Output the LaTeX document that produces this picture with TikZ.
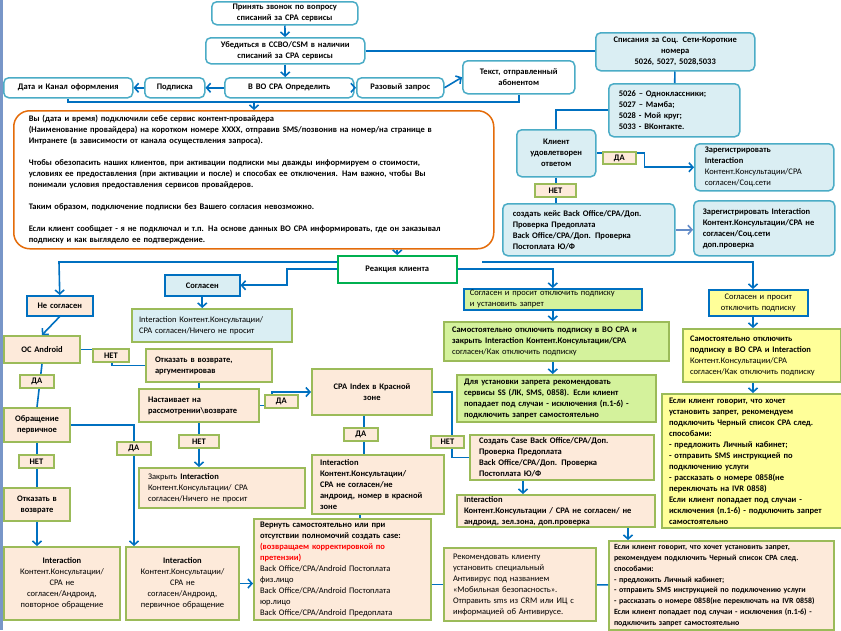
\documentclass[tikz,border=0pt]{standalone}
\usepackage{fontspec}
\setmainfont{Carlito}
\usepackage{tikz}
\usetikzlibrary{arrows.meta, positioning}
\usepackage{xcolor}
\definecolor{lineblue}{RGB}{0,112,192}
\definecolor{tealb}{RGB}{75,172,198}
\definecolor{lightblue}{RGB}{218,238,243}
\definecolor{oliveg}{RGB}{155,187,89}
\definecolor{peach}{RGB}{253,234,218}
\definecolor{limeg}{RGB}{212,242,156}
\definecolor{paleyel}{RGB}{255,255,153}
\definecolor{orangeb}{RGB}{228,108,10}
\definecolor{reactg}{RGB}{0,176,80}
\definecolor{softblue}{RGB}{100,140,200}
\definecolor{stripblue}{RGB}{120,150,200}
\newcommand{\fsize}{\fontsize{8.5}{11}\selectfont}
\tikzset{%
	every box/.style={
		anchor=north west,
		line width=1.5pt,
		inner xsep=4pt,
		inner ysep=1pt,
		font=\fsize
	},
	round box/.style={every box, draw=tealb, rounded corners=5pt, fill=#1},
	round box/.default=white,
	green box/.style={every box, draw=oliveg, line width=2pt, fill=#1},
	green box/.default=peach,
	blue box/.style={every box, draw=lineblue, fill=#1},
	blue box/.default=white,
	strong/.style={font=\fsize\bfseries},
	answer/.style={
		anchor=north west,
		draw=oliveg,
		line width=1.8pt,
		fill=peach,
		font=\fsize\bfseries,
		inner sep=0pt,
		minimum height=13pt,
		align=center
	},
	conn/.style={draw=lineblue, line width=1.6pt},
	arr/.style={conn, -{Straight Barb[length=4pt,width=9pt]}},
}

\begin{document}
\begin{tikzpicture}[x=1pt, y=-1pt]
			\useasboundingbox (0,0) rectangle (841,630);
			\fill[stripblue] (0,0) rectangle (3,630);
			
			\node[round box, strong, text width=138pt, minimum height=23pt, align=center] (call) at (211,1) {Принять звонок по вопросу\\списаний за CPA сервисы};
			\node[round box, strong, text width=151pt, minimum height=26pt, align=center] (check) at (205,37) {Убедиться в ССВО/CSM в наличии\\списаний за CPA сервисы};
			\node[round box, strong, text width=121pt, minimum height=20pt, align=center] (vo) at (224,77) {В ВО CPA Определить};
			\node[round box, strong, text width=52pt, minimum height=20pt, align=center] (sub) at (144,77) {Подписка};
			\node[round box, strong, text width=121pt, minimum height=20pt, align=center] (date) at (3,77) {Дата и Канал оформления};
			\node[round box, strong, text width=79pt, minimum height=20pt, align=center] (once) at (356,77) {Разовый запрос};
			\node[round box, strong, text width=104pt, minimum height=33pt, align=center] (smstext) at (462,60) {Текст, отправленный\\абонентом};
			
			\node[every box, strong, draw=orangeb, fill=white, rounded corners=16pt, inner xsep=15pt, text width=450pt, minimum height=138pt, align=left] (script) at (13,110) {Вы (дата и время) подключили себе сервис контент-провайдера\\(Наименование провайдера) на коротком номере XXXX, отправив SMS/позвонив на номер/на странице в\\Интранете (в зависимости от канала осуществления запроса).\\[11pt]Чтобы обезопасить наших клиентов, при активации подписки мы дважды информируем о стоимости,\\условиях ее предоставления (при активации и после) и способах ее отключения. Нам важно, чтобы Вы\\понимали условия предоставления сервисов провайдеров.\\[11pt]Таким образом, подключение подписки без Вашего согласия невозможно.\\[11pt]Если клиент сообщает - я не подключал и т.п. На основе данных ВО CPA информировать, где он заказывал\\подписку и как выглядело ее подтверждение.};
			
			\node[round box=lightblue, strong, text width=151pt, minimum height=38pt, align=center] (soc) at (595,32) {Списания за Соц. Сети-Короткие\\номера\\5026, 5027, 5028,5033};
			\node[round box=lightblue, strong, inner xsep=10pt, text width=111pt, minimum height=53pt, align=left] (codes) at (608,83) {5026 – Одноклассники;\\5027 – Мамба;\\5028 - Мой круг;\\5033 - ВКонтакте.};
			\node[round box=lightblue, strong, text width=71pt, minimum height=47pt, align=center] (satisfied) at (516,129) {Клиент\\удовлетворен\\ответом};
			\node[round box=lightblue, inner xsep=10pt, text width=119pt, minimum height=47pt, align=left] (reg1) at (694,143) {\textbf{Зарегистрировать}\\\textbf{Interaction}\\Контент.Консультации/CPA\\согласен/Соц.сети};
			\node[round box=lightblue, strong, inner xsep=10pt, text width=152pt, minimum height=52pt, align=left] (case1) at (502,203) {создать кейс Back Office/CPA/Доп.\\Проверка Предоплата\\Back Office/CPA/Доп. Проверка\\Постоплата Ю/Ф};
			\node[round box=lightblue, strong, inner xsep=9pt, text width=123pt, minimum height=55pt, align=left] (reg2) at (693,200) {Зарегистрировать Interaction\\Контент.Консультации/CPA не\\согласен/Соц.сети\\доп.проверка};
			
			\node[every box, strong, draw=reactg, fill=white, text width=111pt, minimum height=27pt, align=center] (react) at (337,255) {Реакция клиента};
			
			\node[blue box=lightblue, strong, text width=67pt, minimum height=21pt, align=center] (agree) at (164,274) {Согласен};
			\node[green box=lightblue, inner xsep=7pt, text width=146pt, minimum height=33pt, align=left] (agreeint) at (131,308) {Interaction Контент.Консультации/\\CPA согласен/Ничего не просит};
			\node[blue box=peach, strong, text width=58pt, minimum height=20pt, align=center] (disagree) at (26,295) {Не согласен};
			\node[green box, strong, text width=68pt, minimum height=27pt, align=center] (android) at (3,335) {ОС Android};
			\node[green box, strong, inner xsep=9pt, text width=108pt, minimum height=33pt, align=left] (refuse1) at (145,348) {Отказать в возврате,\\аргументировав};
			\node[green box, strong, inner xsep=9pt, text width=102pt, minimum height=33pt, align=left] (insist) at (138,388) {Настаивает на\\рассмотрении\textbackslash возврате};
			\node[green box, inner xsep=9pt, text width=148pt, minimum height=40pt, align=left] (close) at (138,467) {Закрыть \textbf{Interaction}\\Контент.Консультации/ CPA\\согласен/Ничего не просит};
			\node[green box, strong, text width=58pt, minimum height=34pt, align=center] (first) at (3,407) {Обращение\\первичное};
			\node[green box, strong, text width=58pt, minimum height=33pt, align=center] (refuse2) at (3,487) {Отказать в\\возврате};
			\node[green box, text width=108pt, minimum height=73pt, align=center] (intrep) at (3,546) {\textbf{Interaction}\\Контент.Консультации/\\CPA не\\согласен/Андроид,\\повторное обращение};
			\node[green box, text width=105pt, minimum height=73pt, align=center] (intfirst) at (125,546) {\textbf{Interaction}\\Контент.Консультации/\\CPA не\\согласен/Андроид,\\первичное обращение};
			\node[green box, strong, text width=112pt, minimum height=46pt, align=center] (cpaidx) at (311,368) {CPA Index в Красной\\зоне};
			\node[green box, strong, inner xsep=8pt, text width=116pt, minimum height=59pt, align=left] (intred) at (311,454) {Interaction\\Контент.Консультации/\\CPA не согласен/не\\андроид, номер в красной\\зоне};
			\node[green box, inner xsep=6pt, text width=165pt, minimum height=101pt, align=left] (ret) at (253,518) {\textbf{Вернуть самостоятельно или при}\\\textbf{отсутствии полномочий создать case:}\\\textcolor{red}{\textbf{(возвращаем корректировкой по}}\\\textcolor{red}{\textbf{претензии)}}\\Back Office/CPA/Android Постоплата\\физ.лицо\\Back Office/CPA/Android Постоплата\\юр.лицо\\Back Office/CPA/Android Предоплата};
			\node[green box, inner xsep=9pt, text width=134pt, minimum height=73pt, align=left] (recomm) at (443,547) {Рекомендовать клиенту\\установить специальный\\Антивирус под названием\\«Мобильная безопасность».\\Отправить sms из CRM или ИЦ с\\информацией об Антивирусе.};
			\node[green box, font=\fontsize{7.9}{10.8}\selectfont\bfseries, inner xsep=5pt, text width=215pt, minimum height=89pt, align=left] (offpeach) at (608,540) {Если клиент говорит, что хочет установить запрет,\\рекомендуем подключить Черный список CPA след.\\способами:\\- предложить Личный кабинет;\\- отправить SMS инструкцией по подключению услуги\\- рассказать о номере 0858(не переключать на IVR 0858)\\Если клиент попадает под случаи - исключения (п.1-6) -\\подключить запрет самостоятельно};
			
			\node[blue box=limeg, inner xsep=6pt, inner ysep=0pt, text width=166pt, minimum height=21pt, align=left] (agreebar) at (463,288) {Согласен и просит отключить подписку\\и установить запрет};
			\node[green box=limeg, inner xsep=8pt, text width=209pt, minimum height=39pt, align=left] (selfoff) at (443,321) {\textbf{Самостоятельно отключить подписку в ВО CPA и}\\\textbf{закрыть Interaction Контент.Консультации/CPA}\\согласен/Как отключить подписку};
			\node[green box=limeg, strong, inner xsep=7pt, text width=185pt, minimum height=47pt, align=left] (ban) at (456,374) {Для установки запрета рекомендовать\\сервисы SS (ЛК, SMS, 0858). Если клиент\\попадает под случаи - исключения (п.1-6) -\\подключить запрет самостоятельно};
			\node[green box, strong, inner xsep=9pt, text width=166pt, minimum height=45pt, align=left] (casegr) at (469,434) {Создать Case Back Office/CPA/Доп.\\Проверка Предоплата\\Back Office/CPA/Доп. Проверка\\Постоплата Ю/Ф};
			\node[green box, strong, inner xsep=7pt, text width=184pt, minimum height=32pt, align=left] (intgreen) at (456,494) {Interaction\\Контент.Консультации / CPA не согласен/ не\\андроид, зел.зона, доп.проверка};
			
			\node[blue box=paleyel, text width=91pt, minimum height=26pt, align=center] (yagree) at (708,289) {Согласен и просит\\отключить подписку};
			\node[green box=paleyel, inner xsep=7pt, text width=144pt, minimum height=53pt, align=left] (yself) at (682,328) {\textbf{Самостоятельно отключить}\\\textbf{подписку в ВО CPA и Interaction}\\Контент.Консультации/CPA\\согласен/Как отключить подписку};
			\node[green box=paleyel, strong, inner xsep=7pt, text width=166pt, minimum height=134pt, align=left] (ytalk) at (661,393) {Если клиент говорит, что хочет\\установить запрет, рекомендуем\\подключить Черный список CPA след.\\способами:\\- предложить Личный кабинет;\\- отправить SMS инструкцией по\\подключению услуги\\- рассказать о номере 0858(не\\переключать на IVR 0858)\\Если клиент попадает под случаи -\\исключения (п.1-6) - подключить запрет\\самостоятельно};
			
			\coordinate (mrg) at (254,102);
			\coordinate (busl) at (59,262);
			\coordinate (busr0) at (482,262);
			\coordinate (busr) at (753,262);
			
			\draw[arr] (call) -- (check);
			\draw[conn] (check.east) -- (check.east -| soc.west);
			\draw[arr] (check.south) -- (check.south |- vo.north);
			\draw[arr] (vo) -- (sub);
			\draw[arr] (sub) -- (date);
			\draw[arr] (vo) -- (once);
			\draw[arr] (once.east) -- (smstext.west);
			\draw[conn] (date.south) |- (mrg) -| (smstext.south);
			\draw[arr] (mrg) -- (mrg |- script.north);
			\draw[arr] (script.south -| react.north) -- (react.north);
			
			\draw[conn] (soc) -- (codes);
			\draw[conn] (codes.west) -| (satisfied.north);
			\draw[arr] (satisfied.east) -- ++(48,0) |- (reg1.west);
			\draw[conn] (satisfied.south) -- (satisfied.south |- case1.north);
			\draw[arr, draw=softblue] (case1.east) -- (case1.east -| reg2.west);
			
			\draw[arr] (react.west |- busl) -- (busl) -- (disagree.north);
			\draw[arr] (busr0) -- (busr) -- (busr |- yagree.north);
			\draw[arr] (react.west) -- ++(-50,0) |- (agree.east);
			\draw[arr] (react.east) -| (agreebar.north);
			\draw[arr] (agreebar.south) -- (agreebar.south |- selfoff.north);
			\draw[arr] (agreebar.south |- selfoff.south) -- (agreebar.south |- ban.north);
			\draw[arr] (agree.south) -- (agree.south |- agreeint.north);
			
			\draw[arr] (disagree.south) -- (android.north);
			\draw[conn] (android.east) -- ++(31,0) |- (refuse1.west);
			\draw[conn] (android.south) -- (first.north);
			\draw[arr] (first.east) -| ([xshift=-48.5pt]intfirst.north);
			\draw[conn] (first.south) -- (refuse2.north);
			\draw[arr] (refuse2.south) -- (refuse2.south |- intrep.north);
			\draw[arr] (intfirst.east) -- (intfirst.east -| ret.west);
			
			\draw[conn] (insist.north |- refuse1.south) -- (insist.north);
			\draw[arr] (insist.east) -- ++(12,0) |- (cpaidx.west);
			\draw[arr] (insist.south) -- (insist.south |- close.north);
			\draw[conn] ([xshift=-8pt]cpaidx.south) -- ([xshift=-8pt]cpaidx.south |- intred.north);
			\draw[conn] ([xshift=-18pt]intred.south) -- ([xshift=-18pt]intred.south |- ret.north);
			\draw[conn] (cpaidx.east) -- ++(19,0) |- (casegr.west);
			\draw[arr] ([xshift=-39pt]casegr.south) -- ([xshift=-39pt]casegr.south |- intgreen.north);
			\draw[arr] ([xshift=72pt]intgreen.south) -- ([xshift=72pt]intgreen.south |- offpeach.north);
			\draw[conn] (recomm.west -| ret.east) -- (recomm.west);
			\draw[conn] (recomm) -- (offpeach);
			
			\draw[arr] (yagree.south -| busr) -- (busr |- yself.north);
			\draw[arr] (busr |- yself.south) -- (busr |- ytalk.north);
			
			\node[answer, minimum width=33pt, minimum height=12pt] (yes1) at (602,151) {ДА};
			\node[answer, minimum width=41pt] (no1) at (534,183) {НЕТ};
			\node[answer, minimum width=36pt] (no2) at (92,348) {НЕТ};
			\node[answer, minimum width=34pt] (yes2) at (19,374) {ДА};
			\node[answer, minimum width=34pt] (yes3) at (116,441) {ДА};
			\node[answer, minimum width=35pt] (no3) at (18,454) {НЕТ};
			\node[answer, minimum width=33pt] (yes4) at (264,394) {ДА};
			\node[answer, minimum width=40pt] (no4) at (178,434) {НЕТ};
			\node[answer, minimum width=34pt] (yes5) at (343,427) {ДА};
			\node[answer, minimum width=33pt, minimum height=12pt] (no5) at (430,435) {НЕТ};
			
		\end{tikzpicture}
\end{document}
